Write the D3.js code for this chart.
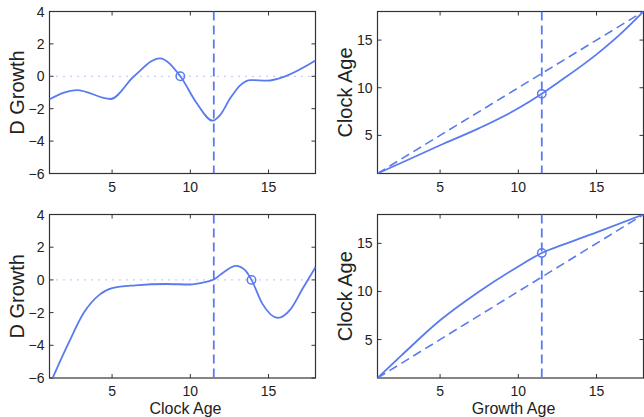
<!DOCTYPE html>
<html>
<head>
<meta charset="utf-8">
<script src="https://cdn.jsdelivr.net/npm/d3@7"></script>
<style>
  body { margin: 0; background: #fff; }
  svg text { font-family: "Liberation Sans", Arial, sans-serif; fill: #222; }
</style>
</head>
<body>
<div id="output"></div>
<script>
// top-left: D Growth vs Clock Age
var dgClockA = [1, 2.74, 4.9, 6.4, 8.04, 9.36, 10.4, 11.43, 11.9, 12.55, 13.2, 13.85, 14.9, 16.06, 18];
var dgValA   = [-1.42, -0.85, -1.4, 0, 1.11, 0, -1.65, -2.74, -2.4, -1.36, -0.54, -0.23, -0.27, 0, 0.97];
// top-right: Clock Age vs Growth Age
var growthA = [1, 2.5, 5, 7.5, 10, 11.5, 12.5, 15, 16.5, 18];
var clockA  = [1, 2.1, 3.96, 5.76, 7.84, 9.36, 10.5, 13.5, 15.6, 18];
// bottom-left
var dgClockB = [1.2, 2.2, 3.2, 4.2, 5, 6.5, 8.5, 10, 10.8, 11.5, 12.2, 12.9, 13.5, 13.91, 14.6, 15.6, 16.4, 17.2, 18];
var dgValB   = [-6, -3.9, -2.0, -0.9, -0.5, -0.33, -0.25, -0.28, -0.17, 0.02, 0.52, 0.86, 0.6, 0, -1.45, -2.32, -1.8, -0.5, 0.77];
// bottom-right
var growthB = [1, 2.5, 5, 7.5, 10, 11.5, 13, 15, 18];
var clockB  = [1, 3.3, 7.0, 10.0, 12.6, 14.0, 14.95, 16.15, 18];

var markA = {x: 9.36, y: 0}, markB = {x: 13.91, y: 0};
var markC = {x: 11.5, y: 9.36}, markD = {x: 11.5, y: 14.0};
var vline = 11.5;
var xTicks = [5, 10, 15];
var dTicks = [-6, -4, -2, 0, 2, 4];
var cTicks = [5, 10, 15];

var blue = '#5a7bef';

var svg = d3.select('#output').append('svg')
  .attr('width', 644).attr('height', 417);

function panel(o) {
  var x = d3.scaleLinear().domain([1, 18]).range([o.left, o.left + o.w]);
  var y = d3.scaleLinear().domain(o.ydom).range([o.top + o.h, o.top]);
  var g = svg.append('g');
  var id = 'clip' + o.name;
  svg.append('clipPath').attr('id', id).append('rect')
    .attr('x', o.left).attr('y', o.top).attr('width', o.w).attr('height', o.h);

  // inward ticks on all four sides
  var tl = 4;
  xTicks.forEach(function (t) {
    g.append('line').attr('x1', x(t)).attr('x2', x(t)).attr('y1', o.top + o.h).attr('y2', o.top + o.h - tl).attr('stroke', '#333');
    g.append('line').attr('x1', x(t)).attr('x2', x(t)).attr('y1', o.top).attr('y2', o.top + tl).attr('stroke', '#333');
    g.append('text').attr('x', x(t)).attr('y', o.top + o.h + 18).attr('text-anchor', 'middle')
      .style('font-size', '14px').text(t);
  });
  o.yticks.forEach(function (t) {
    g.append('line').attr('y1', y(t)).attr('y2', y(t)).attr('x1', o.left).attr('x2', o.left + tl).attr('stroke', '#333');
    g.append('line').attr('y1', y(t)).attr('y2', y(t)).attr('x1', o.left + o.w).attr('x2', o.left + o.w - tl).attr('stroke', '#333');
    g.append('text').attr('x', o.left - 5).attr('y', y(t) + 5).attr('text-anchor', 'end')
      .style('font-size', '14px').text(t < 0 ? '\u2212' + (-t) : t);
  });
  g.append('rect').attr('x', o.left).attr('y', o.top).attr('width', o.w).attr('height', o.h)
    .attr('fill', 'none').attr('stroke', '#333').attr('stroke-width', 1.2);

  var inner = g.append('g').attr('clip-path', 'url(#' + id + ')');
  if (o.zero) {
    inner.append('line').attr('x1', x(1)).attr('x2', x(18)).attr('y1', y(0)).attr('y2', y(0))
      .attr('stroke', blue).attr('stroke-opacity', 0.7).attr('stroke-width', 1.2).attr('stroke-dasharray', '1,6');
  }
  if (o.diag) {
    inner.append('line').attr('x1', x(1)).attr('y1', y(1)).attr('x2', x(18)).attr('y2', y(18))
      .attr('stroke', blue).attr('stroke-width', 1.6).attr('stroke-dasharray', '9,5');
  }
  inner.append('line').attr('x1', x(vline)).attr('x2', x(vline)).attr('y1', o.top).attr('y2', o.top + o.h)
    .attr('stroke', blue).attr('stroke-width', 1.8).attr('stroke-dasharray', '9,5');

  var pts = d3.zip(o.xs, o.ys);
  var line = d3.line().x(function (d) { return x(d[0]); }).y(function (d) { return y(d[1]); })
    .curve(d3.curveMonotoneX);
  inner.append('path').datum(pts).attr('d', line).attr('fill', 'none')
    .attr('stroke', blue).attr('stroke-width', 1.8);
  g.append('circle').attr('cx', x(o.mark.x)).attr('cy', y(o.mark.y)).attr('r', 4.2)
    .attr('fill', 'none').attr('stroke', blue).attr('stroke-width', 1.5);

  g.append('text').attr('transform', 'translate(' + (o.left - 26) + ',' + (o.top + o.h / 2) + ') rotate(-90)')
    .attr('text-anchor', 'middle').style('font-size', '20px').text(o.ylab);
  if (o.xlab) {
    g.append('text').attr('x', o.left + o.w / 2 + 3).attr('y', 413.5).attr('text-anchor', 'middle')
      .style('font-size', '16px').text(o.xlab);
  }
}

panel({name: 'a', left: 49.5, top: 11.5, w: 266, h: 162, ydom: [-6, 4], yticks: dTicks,
  xs: dgClockA, ys: dgValA, mark: markA, zero: true, ylab: 'D Growth'});
panel({name: 'b', left: 377.5, top: 11.5, w: 266, h: 162, ydom: [1, 18], yticks: cTicks,
  xs: growthA, ys: clockA, mark: markC, diag: true, ylab: 'Clock Age'});
panel({name: 'c', left: 49.5, top: 214.5, w: 266, h: 163.5, ydom: [-6, 4], yticks: dTicks,
  xs: dgClockB, ys: dgValB, mark: markB, zero: true, ylab: 'D Growth', xlab: 'Clock Age'});
panel({name: 'd', left: 377.5, top: 214.5, w: 266, h: 163.5, ydom: [1, 18], yticks: cTicks,
  xs: growthB, ys: clockB, mark: markD, diag: true, ylab: 'Clock Age', xlab: 'Growth Age'});
</script>
</body>
</html>
